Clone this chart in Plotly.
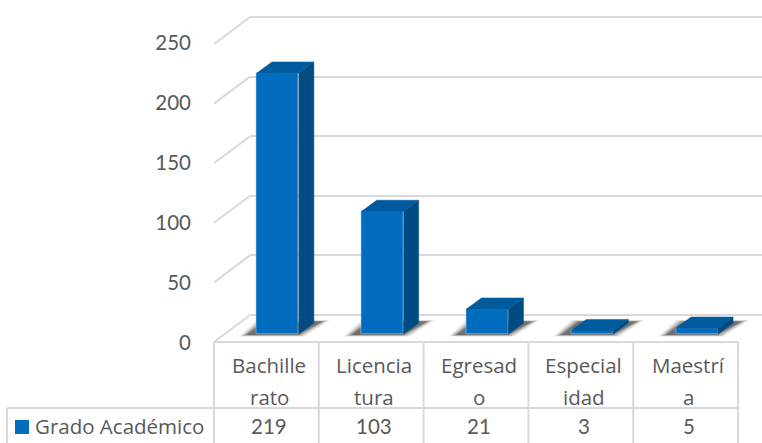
import plotly.graph_objects as go

# ---- data ----
series_name = "Grado Académico"
cat_line1 = ["Bachille", "Licencia", "Egresad", "Especial", "Maestrí"]
cat_line2 = ["rato", "tura", "o", "idad", "a"]
values = [219, 103, 21, 3, 5]
y_ticks = [0, 50, 100, 150, 200, 250]

W, H = 762, 443
FONT = "Open Sans"
NUMFONT = "Lato"
TXT = "#595959"
GRID = "#D9D9D9"
FS = 20.5

def px(x):
    return x / W

def py(y):
    return 1 - y / H

COL = 104.8            # px per category
PXU = 1.192            # px per value unit
DX, DY = 15 / COL, 11 / PXU   # depth offset in data units
BW = 0.40
idx = list(range(len(values)))

fig = go.Figure()

fig.add_trace(go.Scatter(x=[0], y=[0], opacity=0, hoverinfo="skip", showlegend=False,
                         xaxis="x", yaxis="y"))
fig.add_trace(go.Scatter(x=[0.5], y=[100], opacity=0, hoverinfo="skip", showlegend=False,
                         xaxis="x2", yaxis="y3"))

fig.add_trace(go.Bar(x=idx, y=values, width=BW, name=series_name, showlegend=False,
                     marker=dict(color="#006CBE", line=dict(color="rgba(170,205,235,0.55)", width=1)),
                     xaxis="x3", yaxis="y2", hoverinfo="skip"))

sx, sy, tx, ty = [], [], [], []
for i, v in zip(idx, values):
    l, r = i - BW / 2, i + BW / 2
    sx += [r, r + DX, r + DX, r, r, None]
    sy += [0, DY, v + DY, v, 0, None]
    tx += [l, r, r + DX, l + DX, l, None]
    ty += [v, v, v + DY, v + DY, v, None]
fig.add_trace(go.Scatter(x=sx, y=sy, mode="lines", fill="toself", fillcolor="#004C82",
                         line=dict(color="#004C82", width=0.5), xaxis="x3", yaxis="y2",
                         hoverinfo="skip", showlegend=False, cliponaxis=False))
fig.add_trace(go.Scatter(x=tx, y=ty, mode="lines", fill="toself", fillcolor="#005A9E",
                         line=dict(color="#005A9E", width=0.5), xaxis="x3", yaxis="y2",
                         hoverinfo="skip", showlegend=False, cliponaxis=False))

shapes = []

for i in idx:
    l, r = i - BW / 2, i + BW / 2
    for grow, alpha in [(5, 0.10), (2.5, 0.18), (0, 0.30), (-2.5, 0.40)]:
        pts = [
            (l - (13 + grow) / COL, -(1.5 + grow * 0.2) / PXU),
            (r + (1 + grow) / COL, -(1.5 + grow * 0.2) / PXU),
            (r + (26 + grow) / COL, (13 + grow * 0.2) / PXU),
            (l + (5 - grow) / COL, (13 + grow * 0.2) / PXU),
        ]
        path = "M" + " L".join(f"{a:.4f},{b:.3f}" for a, b in pts) + " Z"
        shapes.append(dict(type="path", path=path, xref="x3", yref="y2", layer="below",
                           fillcolor=f"rgba(50,50,50,{alpha})", line=dict(width=0)))

front_0, back_0 = 342, 315
for t in y_ticks:
    f = front_0 - t * 1.192
    b = back_0 - t * 1.192
    shapes.append(dict(type="line", xref="paper", yref="paper", layer="below",
                       x0=px(214), y0=py(f), x1=px(250), y1=py(b),
                       line=dict(color=GRID, width=2)))

col_edges = [214 + COL * k for k in range(len(values) + 1)]
line = dict(color=GRID, width=2)
shapes.append(dict(type="line", xref="paper", yref="paper", x0=px(214), x1=px(col_edges[-1]),
                   y0=py(342), y1=py(342), line=line))
shapes.append(dict(type="line", xref="paper", yref="paper", x0=px(7), x1=px(col_edges[-1]),
                   y0=py(408), y1=py(408), line=line))
shapes.append(dict(type="line", xref="paper", yref="paper", x0=px(7), x1=px(7),
                   y0=py(408), y1=py(443), line=line))
for e in col_edges:
    shapes.append(dict(type="line", xref="paper", yref="paper", x0=px(e), x1=px(e),
                       y0=py(342), y1=py(443), line=line))

shapes.append(dict(type="rect", xref="paper", yref="paper", x0=px(15), x1=px(29),
                   y0=py(434), y1=py(420), fillcolor="#006CBE", line=dict(width=0)))

ann = []
font = dict(family=FONT, size=FS, color=TXT)
numfont = dict(family=NUMFONT, size=20.5, color=TXT)
for i in idx:
    ann.append(dict(x=i, xref="x", y=py(364.5), yref="paper", text=cat_line1[i], showarrow=False,
                    font=font, xanchor="center", yanchor="middle", xshift=3))
    ann.append(dict(x=i, xref="x", y=py(396.5), yref="paper", text=cat_line2[i], showarrow=False,
                    font=font, xanchor="center", yanchor="middle", xshift=3))
    ann.append(dict(x=i, xref="x", y=py(426), yref="paper", text=str(values[i]), showarrow=False,
                    font=numfont, xanchor="center", yanchor="middle", xshift=3))
ann.append(dict(x=px(35), xref="paper", y=py(426), yref="paper", text=series_name, showarrow=False,
                font=font, xanchor="left", yanchor="middle", xshift=-2))

hidden = dict(visible=False, showgrid=False, zeroline=False)
GR_LO, GR_HI = -10, 260     # axis padding so the 0 and 250 gridlines are not trimmed
BAR_LO, BAR_HI = -20, 270   # axis padding so the floor shadows are not clipped
fig.update_layout(
    width=W, height=H, margin=dict(l=0, r=0, t=0, b=0, pad=0, autoexpand=False),
    paper_bgcolor="white", plot_bgcolor="rgba(0,0,0,0)",
    showlegend=False, hovermode=False, bargap=0,
    font=dict(family=FONT, size=FS, color=TXT),
    shapes=shapes, annotations=ann,
    xaxis=dict(domain=[px(214), px(214 + COL * 5)], range=[-0.5, 4.5], anchor="y", **hidden),
    yaxis=dict(domain=[py(343), py(43)], range=[0, 250], anchor="x", tickvals=y_ticks,
               showgrid=False, zeroline=False, showline=False, ticks="",
               ticklabelstandoff=22, tickfont=numfont),
    xaxis2=dict(domain=[px(250), 1], range=[0, 1], anchor="y3", **hidden),
    yaxis3=dict(domain=[py(back_0 - GR_LO * PXU), py(back_0 - GR_HI * PXU)], range=[GR_LO, GR_HI],
                anchor="x2", tickvals=y_ticks, showticklabels=False, showgrid=True,
                gridcolor=GRID, gridwidth=2, zeroline=False, showline=False, ticks=""),
    xaxis3=dict(domain=[px(225.5), px(225.5 + COL * 5)], range=[-0.5, 4.5], anchor="y2", **hidden),
    yaxis2=dict(domain=[py(334 - BAR_LO * PXU), py(334 - BAR_HI * PXU)], range=[BAR_LO, BAR_HI],
                anchor="x3", **hidden),
)

fig.write_html("out.html", config={"displayModeBar": False},
               post_script="document.body.style.margin='0';document.body.style.overflow='hidden';")
